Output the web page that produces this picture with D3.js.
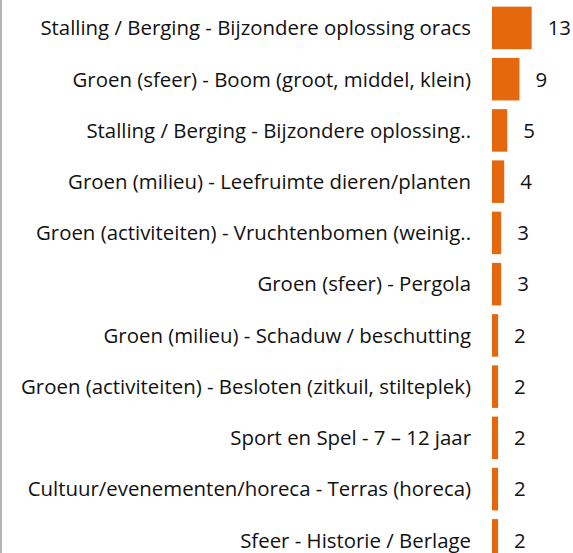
<!DOCTYPE html>
<html>
<head>
<meta charset="utf-8">
<script src="https://cdn.jsdelivr.net/npm/d3@7"></script>
<style>
  body { margin: 0; background: #fff; }
  .label { font-family: "Open Sans", sans-serif; font-size: 20.4px; fill: #111; }
  .value { font-family: "Open Sans", sans-serif; font-size: 20.4px; fill: #111; }
</style>
</head>
<body>
<script>
// categories (top to bottom) and their counts
var categories = [
  "Stalling / Berging - Bijzondere oplossing oracs",
  "Groen (sfeer) - Boom (groot, middel, klein)",
  "Stalling / Berging - Bijzondere oplossing..",
  "Groen (milieu) - Leefruimte dieren/planten",
  "Groen (activiteiten) - Vruchtenbomen (weinig..",
  "Groen (sfeer) - Pergola",
  "Groen (milieu) - Schaduw / beschutting",
  "Groen (activiteiten) - Besloten (zitkuil, stilteplek)",
  "Sport en Spel - 7 \u2013 12 jaar",
  "Cultuur/evenementen/horeca - Terras (horeca)",
  "Sfeer - Historie / Berlage"
];
var counts = [13, 9, 5, 4, 3, 3, 2, 2, 2, 2, 2];

var width = 573, height = 553;
var barLeft = 492;

var svg = d3.select("body").append("svg")
    .attr("width", width)
    .attr("height", height);

// left border of the panel
svg.append("line")
    .attr("x1", 1).attr("x2", 1)
    .attr("y1", 0).attr("y2", height)
    .attr("stroke", "#b5b5b5")
    .attr("stroke-width", 2);

var xScale = d3.scaleLinear()
    .domain([0, 13])
    .range([0, 39.7]);

var yScale = d3.scaleBand()
    .domain(categories)
    .range([2.3, 566])
    .paddingInner(0.17)
    .paddingOuter(0.085);

var rows = svg.selectAll("g.row")
    .data(categories)
    .enter().append("g")
    .attr("class", "row")
    .attr("transform", function(d) { return "translate(0," + yScale(d) + ")"; });

rows.append("rect")
    .attr("x", barLeft)
    .attr("y", 0)
    .attr("width", function(d, i) { return xScale(counts[i]); })
    .attr("height", yScale.bandwidth())
    .attr("fill", "#e6680e");

rows.append("text")
    .attr("class", "label")
    .attr("x", barLeft - 21)
    .attr("y", yScale.bandwidth() / 2)
    .attr("dy", "0.36em")
    .attr("text-anchor", "end")
    .text(function(d) { return d; });

rows.append("text")
    .attr("class", "value")
    .attr("x", function(d, i) { return barLeft + xScale(counts[i]) + 16; })
    .attr("y", yScale.bandwidth() / 2)
    .attr("dy", "0.36em")
    .text(function(d, i) { return counts[i]; });
</script>
</body>
</html>
